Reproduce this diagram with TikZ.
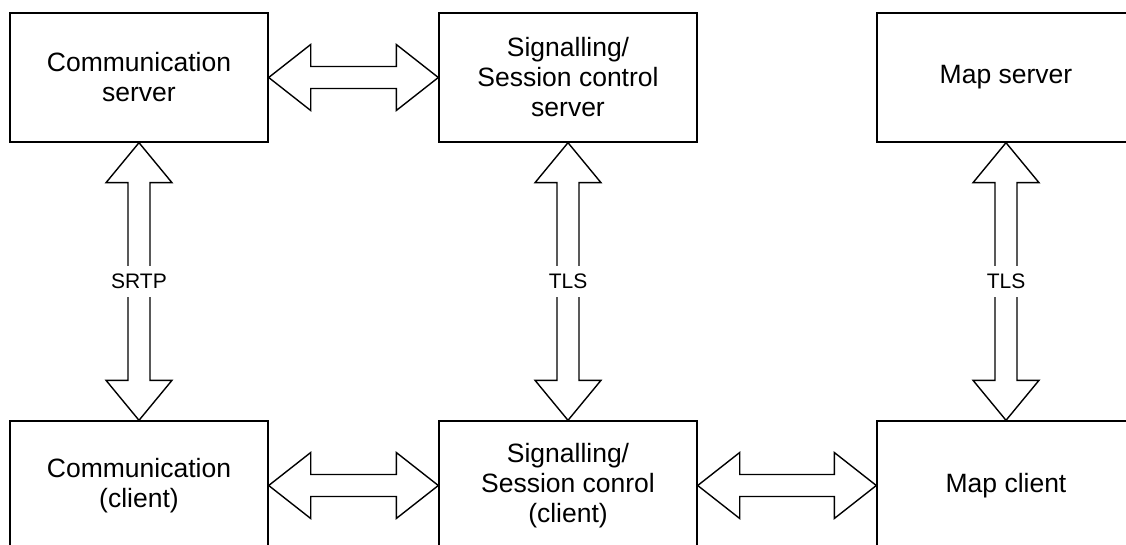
\documentclass[tikz,border=0pt]{standalone}
\usepackage{fontspec}
\setmainfont{Liberation Sans}
\usetikzlibrary{calc}
\tikzset{
  box/.style={draw=black, line width=1.4pt, fill=white, minimum width=258pt, minimum height=129pt,
    inner sep=0pt, align=center, font=\fontsize{26.5}{30}\selectfont},
  fatarrow/.style={draw=black, line width=1.4pt, fill=white, line join=miter},
  lbl/.style={fill=white, inner sep=2pt, minimum height=31pt, font=\fontsize{21}{24}\selectfont}
}
\newcommand{\hfat}[2]{%
  \draw[fatarrow] (#1) -- ($(#1)+(42,33)$) -- ($(#1)+(42,11)$) -- ($(#2)+(-42,11)$) -- ($(#2)+(-42,33)$)
    -- (#2) -- ($(#2)+(-42,-33)$) -- ($(#2)+(-42,-11)$) -- ($(#1)+(42,-11)$) -- ($(#1)+(42,-33)$) -- cycle;}
\newcommand{\vfat}[2]{%
  \draw[fatarrow] (#1) -- ($(#1)+(33,40)$) -- ($(#1)+(11,40)$) -- ($(#2)+(11,-40)$) -- ($(#2)+(33,-40)$)
    -- (#2) -- ($(#2)+(-33,-40)$) -- ($(#2)+(-11,-40)$) -- ($(#1)+(-11,40)$) -- ($(#1)+(-33,40)$) -- cycle;}
\begin{document}
\begin{tikzpicture}[x=1pt,y=-1pt]
\useasboundingbox (0,0) rectangle (1126,545);
\fill[white] (0,0) rectangle (1126,545);
\clip (0,0) rectangle (1126,545);
\node[box] (cs) at (139,77.5) {Communication\\server};
\node[box] (ss) at (568,77.5) {Signalling/\\Session control\\server};
\node[box] (ms) at (1006,77.5) {Map server};
\node[box] (cc) at (139,485.5) {Communication\\(client)};
\node[box] (sc) at (568,485.5) {Signalling/\\Session conrol\\(client)};
\node[box] (mc) at (1006,485.5) {Map client};
\hfat{cs.east}{ss.west}
\hfat{cc.east}{sc.west}
\hfat{sc.east}{mc.west}
\vfat{cs.south}{cc.north}
\vfat{ss.south}{sc.north}
\vfat{ms.south}{mc.north}
\node[lbl] (l1) at ($(cs.south)!0.5!(cc.north)$) {SRTP};
\node[lbl] (l2) at ($(ss.south)!0.5!(sc.north)$) {TLS};
\node[lbl] (l3) at ($(ms.south)!0.5!(mc.north)$) {TLS};
\end{tikzpicture}
\end{document}
